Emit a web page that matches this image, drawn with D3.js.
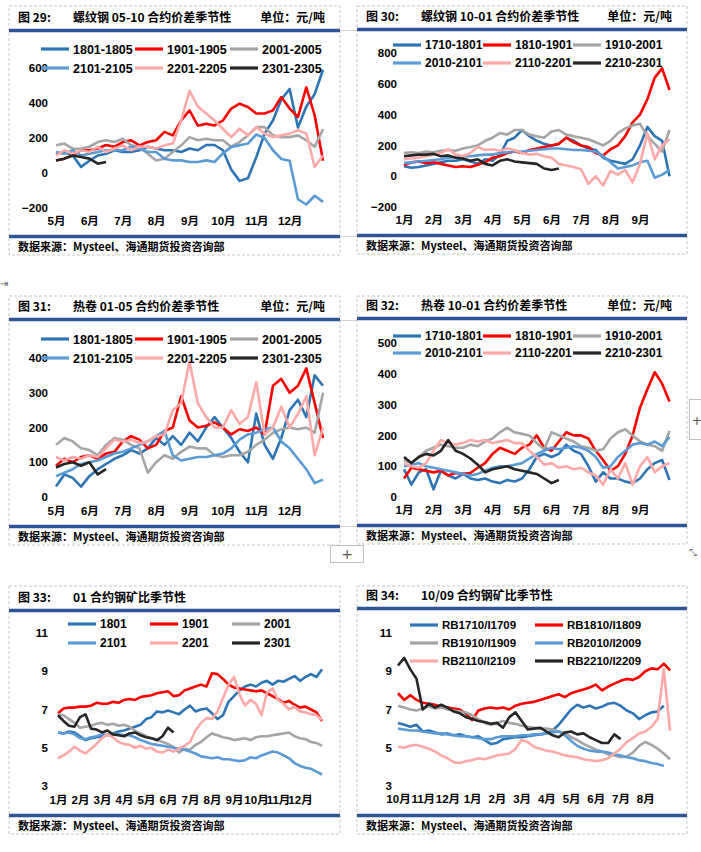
<!DOCTYPE html>
<html>
<head>
<meta charset="utf-8">
<script src="https://d3js.org/d3.v7.min.js"></script>
<style>
  body { margin: 0; background: #fff; }
  svg { display: block; }
</style>
</head>
<body>
<div id="chart"></div>
<script>
// series colours, same order as the legends
var colors = ["#2E75B6", "#FF0000", "#A5A5A5", "#5B9BD5", "#FFA8A8", "#262626"];

// every series holds one value per quarter month, starting at the first month label
var step = 0.25;

// ---- 图29 螺纹钢 05-10 合约价差 (元/吨) ----
var p29Months = ["5月", "6月", "7月", "8月", "9月", "10月", "11月", "12月"];
var p29Names = ["1801-1805", "1901-1905", "2001-2005", "2101-2105", "2201-2205", "2301-2305"];
var p29_1801 = [110,120,100,35,70,100,110,130,120,120,130,150,140,130,130,120,140,130,160,160,130,20,-45,-30,90,225,300,420,480,260,380,450,590];
var p29_1901 = [72,82,100,130,130,140,160,150,177,187,158,177,187,235,215,300,358,270,282,272,300,368,396,377,340,340,358,434,368,320,490,330,70];
var p29_2001 = [158,168,139,139,150,177,187,177,196,158,150,110,72,82,120,158,205,187,196,187,187,150,177,215,262,262,215,205,205,215,187,150,250];
var p29_2101 = [120,110,130,100,110,120,130,130,130,150,139,120,120,82,72,72,63,63,72,63,112,148,158,168,220,200,130,80,70,-150,-180,-130,-165];
var p29_2201 = [100,130,110,130,120,150,120,140,158,130,150,150,140,158,168,300,470,380,340,300,253,205,253,215,262,225,205,215,225,244,225,34,100];
var p29_2301 = [72,82,100,91,82,53,63];

// ---- 图30 螺纹钢 10-01 合约价差 (元/吨) ----
var p30Months = ["1月", "2月", "3月", "4月", "5月", "6月", "7月", "8月", "9月"];
var p30Names = ["1710-1801", "1810-1901", "1910-2001", "2010-2101", "2110-2201", "2210-2301"];
var p30_1710 = [65,55,60,70,80,90,100,100,110,95,80,110,100,140,230,250,300,260,230,210,200,210,250,230,200,180,170,120,100,90,80,110,200,320,260,230,0];
var p30_1810 = [70,90,95,85,90,80,70,60,65,60,75,90,120,130,150,160,150,170,180,190,200,210,250,220,200,190,150,135,175,200,260,350,400,500,640,700,560];
var p30_1910 = [150,155,150,160,155,165,170,165,180,190,200,230,250,280,270,300,300,270,260,250,290,300,270,260,250,240,220,200,230,280,310,330,340,260,210,160,300];
var p30_2010 = [85,90,95,100,105,110,120,125,130,130,135,140,140,150,155,160,160,165,170,175,180,180,175,170,170,165,160,130,90,50,60,70,90,100,-10,10,40];
var p30_2110 = [110,115,120,130,140,150,175,140,130,150,190,170,175,165,180,170,150,140,145,130,120,80,70,60,45,-50,0,-60,35,10,40,-40,80,280,110,200,240];
var p30_2210 = [130,135,140,140,145,130,135,120,115,100,110,80,70,100,110,95,90,85,80,50,40,50];

// ---- 图31 热卷 01-05 合约价差 (元/吨) ----
var p31Months = p29Months;
var p31Names = p29Names;
var p31_1801 = [30,65,55,30,60,80,95,110,120,135,125,140,170,150,175,150,185,160,200,230,200,170,130,100,240,150,110,170,250,280,230,350,320];
var p31_1901 = [90,110,100,115,120,110,125,130,160,175,165,140,150,190,200,290,220,200,205,215,200,180,195,190,200,180,320,340,300,320,370,270,170];
var p31_2001 = [150,170,160,140,135,120,150,170,165,150,140,70,100,120,110,130,145,140,140,120,115,120,120,130,150,165,185,195,200,195,200,185,300];
var p31_2101 = [60,70,80,95,100,105,115,125,130,140,150,160,175,190,120,105,110,115,115,120,125,140,165,180,185,195,200,160,140,110,80,40,50];
var p31_2201 = [115,105,115,110,120,115,140,165,160,165,155,160,175,180,250,270,390,270,230,200,200,250,210,230,330,180,200,260,200,240,290,120,200];
var p31_2301 = [85,95,100,90,100,65,80];

// ---- 图32 热卷 10-01 合约价差 (元/吨) ----
var p32Months = p30Months;
var p32Names = p30Names;
var p32_1710 = [90,40,80,90,25,85,70,60,75,60,55,60,50,45,55,50,60,90,130,140,130,140,170,150,140,100,50,80,60,60,50,45,60,90,110,120,55];
var p32_1810 = [60,95,90,85,80,85,70,78,75,78,95,110,140,160,150,140,160,170,200,160,150,180,210,200,200,190,150,120,85,100,140,200,290,350,405,368,310];
var p32_1910 = [120,110,130,150,160,170,165,160,160,170,165,180,190,210,225,210,205,200,175,155,210,200,190,180,165,160,150,155,190,210,220,200,180,170,165,150,215];
var p32_2010 = [100,105,110,100,95,90,85,80,75,70,75,85,95,100,100,105,110,125,140,150,160,155,160,165,160,150,130,95,100,130,150,170,175,170,180,165,195];
var p32_2110 = [110,100,95,110,150,185,175,170,175,185,180,185,175,180,185,175,175,150,130,105,110,95,100,90,95,80,70,40,90,60,110,40,100,130,80,100,110];
var p32_2210 = [130,110,130,140,135,150,185,150,140,125,105,80,90,95,100,90,85,80,75,60,45,55];

// ---- 图33 01 合约钢矿比 ----
var p33Months = ["1月", "2月", "3月", "4月", "5月", "6月", "7月", "8月", "9月", "10月", "11月", "12月"];
var p33Names = ["1801", "1901", "2001", "2101", "2201", "2301"];
var p33_1801 = [5.8,5.75,5.85,5.8,5.6,5.4,5.5,5.55,5.6,5.7,5.75,5.85,5.9,6.0,6.1,6.2,6.5,6.6,6.9,6.85,6.95,6.85,6.75,7.0,7.2,6.9,7.0,7.05,6.8,6.5,6.7,7.4,7.7,8.0,8.2,8.3,8.2,8.4,8.5,8.3,8.5,8.45,8.6,8.75,8.5,8.7,8.85,8.7,9.1];
var p33_1901 = [6.8,7.05,7.1,7.1,7.15,7.15,7.2,7.35,7.3,7.3,7.4,7.35,7.5,7.55,7.5,7.65,7.7,7.75,7.85,7.9,7.95,7.7,7.75,8.0,8.1,8.2,8.3,8.2,8.9,8.85,8.6,8.3,8.15,8.1,8.05,8.0,7.95,8.0,7.85,7.7,7.55,7.35,7.45,7.25,7.1,7.15,7.0,6.85,6.4];
var p33_2001 = [6.75,6.7,6.5,6.3,6.05,6.1,6.15,6.25,6.3,6.2,6.25,6.15,6.2,6.1,5.9,5.75,5.6,5.5,5.4,5.3,5.2,5.05,4.75,4.95,4.9,5.15,5.3,5.55,5.75,5.65,5.55,5.5,5.4,5.45,5.5,5.4,5.55,5.6,5.6,5.65,5.7,5.75,5.8,5.6,5.5,5.45,5.3,5.25,5.1];
var p33_2101 = [5.8,5.75,5.8,5.7,5.5,5.45,5.55,5.6,5.7,5.65,5.75,5.7,5.65,5.65,5.55,5.4,5.3,5.2,5.15,5.1,5.05,5.0,4.95,4.9,4.8,4.7,4.55,4.5,4.45,4.5,4.4,4.4,4.35,4.3,4.35,4.5,4.45,4.6,4.7,4.8,4.75,4.6,4.45,4.2,4.05,3.95,3.9,3.75,3.6];
var p33_2201 = [4.45,4.6,4.8,5.05,4.85,4.7,4.95,5.2,5.5,5.7,5.55,5.3,5.2,5.15,5.0,5.1,4.95,5.0,4.8,4.75,4.9,4.8,4.95,5.1,5.3,5.9,6.3,6.55,6.5,6.9,7.6,8.3,8.7,7.8,7.2,7.5,7.3,6.7,7.9,8.1,7.5,7.3,7.0,7.15,6.9,6.85,6.75,6.7,6.45];
var p33_2301 = [6.7,6.4,6.15,6.1,6.6,6.75,6.0,5.95,5.8,5.9,5.7,5.65,5.6,5.75,5.8,5.65,5.55,5.5,5.4,5.6,6.05,5.8];

// ---- 图34 10/09 合约钢矿比 ----
var p34Months = ["10月", "11月", "12月", "1月", "2月", "3月", "4月", "5月", "6月", "7月", "8月"];
var p34Names = ["RB1710/I1709", "RB1810/I1809", "RB1910/I1909", "RB2010/I2009", "RB2110/I2109", "RB2210/I2209"];
var p34_1710 = [6.3,6.2,6.1,6.2,5.85,5.9,5.8,5.7,5.75,5.65,5.7,5.6,5.55,5.6,5.4,5.2,5.25,5.45,5.5,5.55,5.55,5.6,5.65,5.7,5.75,5.9,6.2,6.6,7.0,7.25,7.1,7.2,7.05,7.15,7.3,7.35,7.2,6.95,6.8,6.5,6.7,6.85,6.9,7.2];
var p34_1810 = [7.85,7.5,7.75,7.5,7.35,7.3,7.25,7.15,7.1,7.05,7.0,6.8,6.45,6.95,7.05,7.1,7.05,7.1,7.0,7.2,7.3,7.35,7.4,7.5,7.6,7.7,7.8,7.65,7.85,7.95,8.05,8.15,8.3,8.0,8.2,8.35,8.5,8.6,8.55,8.7,9.0,9.15,9.1,9.4,9.05];
var p34_1910 = [7.2,7.1,7.0,6.95,7.05,7.15,7.05,7.1,7.0,6.95,6.9,6.85,6.7,6.5,6.3,6.2,6.3,6.4,6.3,6.25,6.15,6.1,6.05,6.0,6.0,5.95,5.85,5.8,5.55,5.4,5.2,5.05,4.9,4.8,4.65,4.6,4.5,4.55,4.75,5.1,5.3,5.15,4.95,4.7,4.4];
var p34_2010 = [6.0,5.95,5.9,5.9,5.85,5.8,5.75,5.75,5.7,5.65,5.6,5.6,5.55,5.5,5.45,5.45,5.55,5.6,5.6,5.6,5.65,5.65,5.7,5.7,5.75,5.8,5.85,5.65,5.35,5.1,4.95,4.85,4.8,4.8,4.75,4.65,4.6,4.5,4.45,4.35,4.3,4.2,4.15,4.05];
var p34_2110 = [5.05,5.0,5.1,5.15,5.05,4.95,4.8,4.6,4.45,4.25,4.2,4.3,4.35,4.45,4.4,4.5,4.6,4.65,4.7,4.95,5.4,5.3,5.05,4.95,4.85,4.8,4.7,4.6,4.55,4.5,4.4,4.35,4.3,4.35,4.45,4.7,4.95,5.3,5.5,5.75,5.85,6.1,6.5,9.1,5.9];
var p34_2210 = [9.3,9.7,9.1,8.6,7.0,7.3,7.1,7.25,7.1,6.9,6.8,6.6,6.5,6.4,6.35,6.25,6.3,6.05,6.6,6.85,6.4,5.95,6.0,6.05,5.85,5.65,5.55,5.8,5.85,5.7,5.75,5.55,5.4,5.25,5.25,5.7,5.45];

var source = "数据来源：Mysteel、海通期货投资咨询部";
var unit = "单位：元/吨";

// layout of the six boxes
var panels = [
  { no: "图 29:", title: "螺纹钢 05-10 合约价差季节性", unit: unit, box: [9, 6, 340, 255], top: 18,
    months: p29Months, names: p29Names, series: [p29_1801, p29_1901, p29_2001, p29_2101, p29_2201, p29_2301],
    xr: [56, 323], yd: [-200, 600], yr: [208, 68], ticks: [-200, 0, 200, 400, 600], yLab: 48, xLab: 221,
    legY: [49, 68], legX: [41, 135, 230], ncol: 3, legFont: 12.5 },
  { no: "图 30:", title: "螺纹钢 10-01 合约价差季节性", unit: unit, box: [357, 6, 687, 254], top: 17,
    months: p30Months, names: p30Names, series: [p30_1710, p30_1810, p30_1910, p30_2010, p30_2110, p30_2210],
    xr: [404, 669.5], yd: [-200, 800], yr: [207, 53], ticks: [-200, 0, 200, 400, 600, 800], yLab: 397, xLab: 220,
    legY: [45, 63], legX: [393, 483, 573], ncol: 3, legFont: 12 },
  { no: "图 31:", title: "热卷 01-05 合约价差季节性", unit: unit, box: [9, 296, 340, 545], top: 307,
    months: p31Months, names: p31Names, series: [p31_1801, p31_1901, p31_2001, p31_2101, p31_2201, p31_2301],
    xr: [56, 323], yd: [0, 400], yr: [497, 358], ticks: [0, 100, 200, 300, 400], yLab: 48, xLab: 511,
    legY: [339, 358], legX: [41, 135, 230], ncol: 3, legFont: 12.5 },
  { no: "图 32:", title: "热卷 10-01 合约价差季节性", unit: unit, box: [357, 296, 687, 544], top: 306,
    months: p32Months, names: p32Names, series: [p32_1710, p32_1810, p32_1910, p32_2010, p32_2110, p32_2210],
    xr: [404, 669.5], yd: [0, 500], yr: [497, 343], ticks: [0, 100, 200, 300, 400, 500], yLab: 397, xLab: 510,
    legY: [336, 353], legX: [393, 483, 573], ncol: 3, legFont: 12 },
  { no: "图 33:", title: "01 合约钢矿比季节性", unit: "", box: [9, 586, 340, 834], top: 598,
    months: p33Months, names: p33Names, series: [p33_1801, p33_1901, p33_2001, p33_2101, p33_2201, p33_2301],
    xr: [58, 322], yd: [3, 11], yr: [786, 633], ticks: [3, 5, 7, 9, 11], yLab: 48, xLab: 800,
    legY: [624, 643], legX: [68, 150, 232], ncol: 3, legFont: 12 },
  { no: "图 34:", title: "10/09 合约钢矿比季节性", unit: "", box: [357, 586, 687, 834], top: 596,
    months: p34Months, names: p34Names, series: [p34_1710, p34_1810, p34_1910, p34_2010, p34_2110, p34_2210],
    xr: [398, 670], yd: [3, 11], yr: [786, 633], ticks: [3, 5, 7, 9, 11], yLab: 392, xLab: 799,
    legY: [625, 643, 661], legX: [410, 535], ncol: 2, legFont: 11.5 }
];

var cjk = "'Noto Sans CJK SC', 'Liberation Sans', sans-serif";
var latin = "'Liberation Sans', Arial, 'Noto Sans CJK SC', sans-serif";

var svg = d3.select("#chart").append("svg")
  .attr("width", 701)
  .attr("height", 852);

svg.append("rect").attr("width", 701).attr("height", 852).attr("fill", "#fff");

function drawPanel(p) {
  var g = svg.append("g");
  var bx0 = p.box[0], by0 = p.box[1], bx1 = p.box[2], by1 = p.box[3];
  var head = p.top + 12.5, foot = by1 - 18.5;

  // dashed frame
  g.append("rect")
    .attr("x", bx0).attr("y", by0)
    .attr("width", bx1 - bx0).attr("height", by1 - by0)
    .attr("fill", "none")
    .attr("stroke", "#c6c6c6")
    .attr("stroke-dasharray", "3,2");

  // header and footer bars
  [head, foot].forEach(function(yy) {
    g.append("line")
      .attr("x1", bx0).attr("x2", bx1)
      .attr("y1", yy).attr("y2", yy)
      .attr("stroke", "#2F5496")
      .attr("stroke-width", 3.5);
  });

  // title row
  g.append("text").attr("x", bx0 + 9).attr("y", p.top).attr("dy", "0.36em")
    .attr("font-family", cjk).attr("font-weight", "bold").attr("font-size", 12)
    .text(p.no);
  g.append("text").attr("x", bx0 + 64).attr("y", p.top).attr("dy", "0.36em")
    .attr("font-family", cjk).attr("font-weight", "bold").attr("font-size", 12)
    .text(p.title);
  if (p.unit) {
    g.append("text").attr("x", bx1 - 15).attr("y", p.top).attr("dy", "0.36em")
      .attr("text-anchor", "end")
      .attr("font-family", cjk).attr("font-weight", "bold").attr("font-size", 12)
      .text(p.unit);
  }
  g.append("text").attr("x", bx0 + 9).attr("y", foot + 10.5).attr("dy", "0.36em")
    .attr("font-family", cjk).attr("font-weight", "bold").attr("font-size", 11)
    .text(source);

  var x = d3.scaleLinear().domain([0, p.months.length]).range(p.xr);
  var y = d3.scaleLinear().domain(p.yd).range(p.yr);

  // axes: labels only, no lines
  var yAxis = g.append("g")
    .attr("transform", "translate(" + p.yLab + ",0)")
    .call(d3.axisLeft(y).tickValues(p.ticks).tickSize(0).tickPadding(0));
  var xAxis = g.append("g")
    .attr("transform", "translate(0," + (p.xLab - 4) + ")")
    .call(d3.axisBottom(x)
      .tickValues(d3.range(p.months.length))
      .tickFormat(function(i) { return p.months[i]; })
      .tickSize(0).tickPadding(0));
  [yAxis, xAxis].forEach(function(a) {
    a.select(".domain").remove();
    a.selectAll("text")
      .attr("fill", "#000")
      .attr("font-family", latin)
      .attr("font-weight", "bold")
      .attr("font-size", 11.5);
  });

  var line = d3.line()
    .x(function(d, i) { return x(i * step); })
    .y(function(d) { return y(d); });

  p.series.forEach(function(s, k) {
    g.append("path")
      .datum(s)
      .attr("d", line)
      .attr("fill", "none")
      .attr("stroke", colors[k])
      .attr("stroke-width", 2.6)
      .attr("stroke-linejoin", "round");
  });

  // legend
  p.names.forEach(function(name, k) {
    var row = Math.floor(k / p.ncol), col = k % p.ncol;
    var lx = p.legX[col], ly = p.legY[row];
    g.append("line")
      .attr("x1", lx).attr("x2", lx + 28)
      .attr("y1", ly).attr("y2", ly)
      .attr("stroke", colors[k])
      .attr("stroke-width", 3.2);
    g.append("text")
      .attr("x", lx + 32).attr("y", ly).attr("dy", "0.36em")
      .attr("font-family", latin)
      .attr("font-weight", "bold")
      .attr("font-size", p.legFont)
      .text(name);
  });
}

panels.forEach(drawPanel);

// thin separators between the two columns
[30.5, 236.5, 320.5, 526.5].forEach(function(yy) {
  svg.append("line").attr("x1", 340).attr("x2", 357).attr("y1", yy).attr("y2", yy)
    .attr("stroke", "#d0d0d0");
});

// page widgets visible in the screenshot
svg.append("text").attr("x", 0).attr("y", 287).attr("font-size", 10)
  .attr("font-family", "'DejaVu Sans'").attr("fill", "#666").text("⇥");
svg.append("rect").attr("x", 330.5).attr("y", 545.5).attr("width", 33).attr("height", 17)
  .attr("fill", "#fff").attr("stroke", "#c0c0c0");
svg.append("text").attr("x", 347).attr("y", 554).attr("dy", "0.35em").attr("text-anchor", "middle")
  .attr("font-size", 14).attr("font-family", "'DejaVu Sans'").attr("fill", "#555").text("+");
svg.append("rect").attr("x", 689.5).attr("y", 399.5).attr("width", 14).attr("height", 40)
  .attr("fill", "#fff").attr("stroke", "#c0c0c0");
svg.append("text").attr("x", 697).attr("y", 420).attr("dy", "0.35em").attr("text-anchor", "middle")
  .attr("font-size", 13).attr("font-family", "'DejaVu Sans'").attr("fill", "#555").text("+");
svg.append("text").attr("x", 689).attr("y", 556).attr("font-size", 10)
  .attr("font-family", "'DejaVu Sans'").attr("fill", "#666").text("⤡");
</script>
</body>
</html>
